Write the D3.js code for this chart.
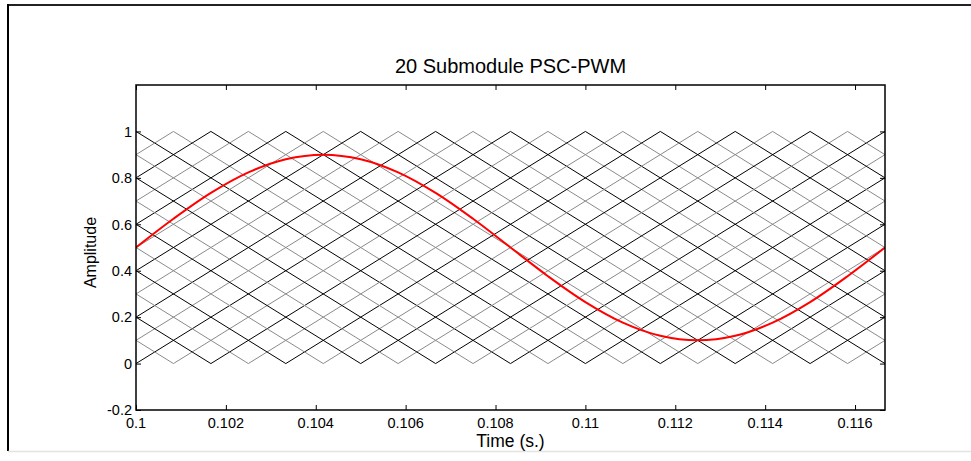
<!DOCTYPE html>
<html>
<head>
<meta charset="utf-8">
<script src="https://cdn.jsdelivr.net/npm/d3@7"></script>
<style>
  html, body { margin: 0; padding: 0; background: #fff; }
  svg { display: block; }
  text { font-family: "Liberation Sans", Arial, Helvetica, sans-serif; fill: #000; }
</style>
</head>
<body>
<svg id="chart" width="971" height="461"></svg>
<script>
// ---------------- data ----------------
const titleText = "20 Submodule PSC-PWM";
const xLabelText = "Time (s.)";
const yLabelText = "Amplitude";
const xDomain = [0.1, 0.1166667];
const yDomain = [-0.2, 1.2];
const xTicks = [0.1, 0.102, 0.104, 0.106, 0.108, 0.11, 0.112, 0.114, 0.116];
const xTickLabels = ["0.1", "0.102", "0.104", "0.106", "0.108", "0.11", "0.112", "0.114", "0.116"];
const yTicks = [-0.2, 0, 0.2, 0.4, 0.6, 0.8, 1];
const yTickLabels = ["-0.2", "0", "0.2", "0.4", "0.6", "0.8", "1"];

// triangular carriers: vertices [time, amplitude]; even index = first group, odd = second group
const carriers = [
  [[0.1, 1.0], [0.1083333, 0], [0.1166667, 1.0]],
  [[0.1, 0.9], [0.1008333, 1], [0.1091667, 0], [0.1166667, 0.9]],
  [[0.1, 0.8], [0.1016667, 1], [0.11, 0], [0.1166667, 0.8]],
  [[0.1, 0.7], [0.1025, 1], [0.1108333, 0], [0.1166667, 0.7]],
  [[0.1, 0.6], [0.1033333, 1], [0.1116667, 0], [0.1166667, 0.6]],
  [[0.1, 0.5], [0.1041667, 1], [0.1125, 0], [0.1166667, 0.5]],
  [[0.1, 0.4], [0.105, 1], [0.1133333, 0], [0.1166667, 0.4]],
  [[0.1, 0.3], [0.1058333, 1], [0.1141667, 0], [0.1166667, 0.3]],
  [[0.1, 0.2], [0.1066667, 1], [0.115, 0], [0.1166667, 0.2]],
  [[0.1, 0.1], [0.1075, 1], [0.1158333, 0], [0.1166667, 0.1]],
  [[0.1, 0.0], [0.1083333, 1], [0.1166667, 0.0]],
  [[0.1, 0.1], [0.1008333, 0], [0.1091667, 1], [0.1166667, 0.1]],
  [[0.1, 0.2], [0.1016667, 0], [0.11, 1], [0.1166667, 0.2]],
  [[0.1, 0.3], [0.1025, 0], [0.1108333, 1], [0.1166667, 0.3]],
  [[0.1, 0.4], [0.1033333, 0], [0.1116667, 1], [0.1166667, 0.4]],
  [[0.1, 0.5], [0.1041667, 0], [0.1125, 1], [0.1166667, 0.5]],
  [[0.1, 0.6], [0.105, 0], [0.1133333, 1], [0.1166667, 0.6]],
  [[0.1, 0.7], [0.1058333, 0], [0.1141667, 1], [0.1166667, 0.7]],
  [[0.1, 0.8], [0.1066667, 0], [0.115, 1], [0.1166667, 0.8]],
  [[0.1, 0.9], [0.1075, 0], [0.1158333, 1], [0.1166667, 0.9]]
];

// reference (modulating) signal samples
const refTime = [0.1, 0.1008333, 0.1016667, 0.1025, 0.1033333, 0.1041667, 0.105, 0.1058333, 0.1066667, 0.1075,
                 0.1083333, 0.1091667, 0.11, 0.1108333, 0.1116667, 0.1125, 0.1133333, 0.1141667, 0.115, 0.1158333, 0.1166667];
const refValue = [0.5, 0.6236, 0.7351, 0.8236, 0.8804, 0.9, 0.8804, 0.8236, 0.7351, 0.6236,
                  0.5, 0.3764, 0.2649, 0.1764, 0.1196, 0.1, 0.1196, 0.1764, 0.2649, 0.3764, 0.5];

// ---------------- layout ----------------
const W = 971, H = 461;
const plot = { left: 136, right: 885, top: 85, bottom: 410 };

const svg = d3.select("#chart");

// figure frame
svg.append("line").attr("x1", 8).attr("x2", W).attr("y1", 5).attr("y2", 5)
  .attr("stroke", "#222").attr("stroke-width", 2);
svg.append("line").attr("x1", 8).attr("x2", 8).attr("y1", 4).attr("y2", 451)
  .attr("stroke", "#000").attr("stroke-width", 2);
svg.append("line").attr("x1", 8).attr("x2", W).attr("y1", 451.5).attr("y2", 451.5)
  .attr("stroke", "#e3e3e3").attr("stroke-width", 1.5);

const x = d3.scaleLinear().domain(xDomain).range([plot.left, plot.right]);
const y = d3.scaleLinear().domain(yDomain).range([plot.bottom, plot.top]);

// ticks (inward, all four sides)
const tickLen = 5;
const axisBottom = d3.axisBottom(x).tickValues(xTicks).tickSizeInner(-tickLen).tickSizeOuter(0).tickFormat("");
const axisTop = d3.axisTop(x).tickValues(xTicks).tickSizeInner(-tickLen).tickSizeOuter(0).tickFormat("");
const axisLeft = d3.axisLeft(y).tickValues(yTicks).tickSizeInner(-tickLen).tickSizeOuter(0).tickFormat("");
const axisRight = d3.axisRight(y).tickValues(yTicks).tickSizeInner(-tickLen).tickSizeOuter(0).tickFormat("");

function styleAxis(g) {
  g.select(".domain").remove();
  g.selectAll(".tick line").attr("stroke", "#000").attr("stroke-width", 1);
}
svg.append("g").attr("transform", `translate(0,${plot.bottom})`).call(axisBottom).call(styleAxis);
svg.append("g").attr("transform", `translate(0,${plot.top})`).call(axisTop).call(styleAxis);
svg.append("g").attr("transform", `translate(${plot.left},0)`).call(axisLeft).call(styleAxis);
svg.append("g").attr("transform", `translate(${plot.right},0)`).call(axisRight).call(styleAxis);

// clip
svg.append("clipPath").attr("id", "clip").append("rect")
  .attr("x", plot.left).attr("y", plot.top)
  .attr("width", plot.right - plot.left).attr("height", plot.bottom - plot.top);

const dataG = svg.append("g").attr("clip-path", "url(#clip)");
const line = d3.line().x(d => x(d[0])).y(d => y(d[1]));

dataG.selectAll("path.carrier")
  .data(carriers)
  .join("path")
  .attr("class", "carrier")
  .attr("d", d => line(d))
  .attr("fill", "none")
  .attr("stroke", (d, i) => i % 2 === 0 ? "#000" : "#8a8a8a")
  .attr("stroke-width", 1);

const refLine = d3.line().x(d => x(d[0])).y(d => y(d[1])).curve(d3.curveCatmullRom.alpha(0.5));
dataG.append("path")
  .attr("d", refLine(refTime.map((t, i) => [t, refValue[i]])))
  .attr("fill", "none")
  .attr("stroke", "#ff0000")
  .attr("stroke-width", 2);

// box
svg.append("rect")
  .attr("x", plot.left).attr("y", plot.top)
  .attr("width", plot.right - plot.left).attr("height", plot.bottom - plot.top)
  .attr("fill", "none").attr("stroke", "#000").attr("stroke-width", 1.5);

// tick labels
svg.append("g").selectAll("text")
  .data(xTicks)
  .join("text")
  .attr("x", d => x(d))
  .attr("y", 428)
  .attr("text-anchor", "middle")
  .attr("font-size", 14.5)
  .text((d, i) => xTickLabels[i]);

svg.append("g").selectAll("text")
  .data(yTicks)
  .join("text")
  .attr("x", plot.left - 4)
  .attr("y", d => y(d))
  .attr("dy", "0.36em")
  .attr("text-anchor", "end")
  .attr("font-size", 14.5)
  .text((d, i) => yTickLabels[i]);

// labels
svg.append("text")
  .attr("x", (plot.left + plot.right) / 2)
  .attr("y", 447)
  .attr("text-anchor", "middle")
  .attr("font-size", 17.5)
  .text(xLabelText);

svg.append("text")
  .attr("transform", `translate(96,${(plot.top + plot.bottom) / 2 + 5}) rotate(-90)`)
  .attr("text-anchor", "middle")
  .attr("font-size", 16)
  .text(yLabelText);

svg.append("text")
  .attr("x", (plot.left + plot.right) / 2)
  .attr("y", 73)
  .attr("text-anchor", "middle")
  .attr("font-size", 20)
  .text(titleText);
</script>
</body>
</html>
